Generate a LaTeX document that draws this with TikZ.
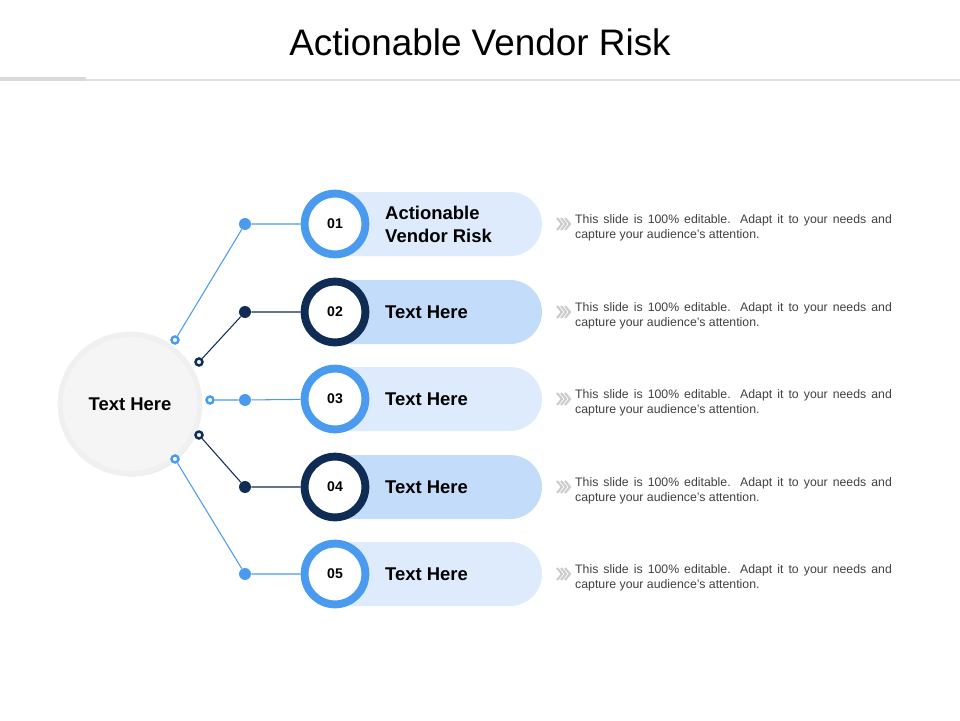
\documentclass[tikz,border=0pt]{standalone}
\usepackage{fontspec}
\setmainfont{Liberation Sans}
\usetikzlibrary{calc,shadows}
\definecolor{ringlight}{HTML}{4A9AF0}
\definecolor{ringdark}{HTML}{0E2C54}
\definecolor{pilllight}{HTML}{DDEBFC}
\definecolor{pilldark}{HTML}{C3DCFA}
\tikzset{
  numring/.style={circle,draw=#1,line width=4.5pt,fill=white,minimum size=61\unit,inner sep=0pt,font=\bfseries\fontsize{8}{9}\selectfont},
  joint/.style={circle,fill=#1,minimum size=12\unit,inner sep=0pt},
  ring/.style={circle,draw=#1,fill=white,line width=1.4pt,minimum size=7\unit,inner sep=0pt},
  label/.style={anchor=west,align=left,font=\bfseries\fontsize{10.5}{13}\selectfont},
  desc/.style={anchor=north west,text width=318\unit,align=justify,font=\fontsize{7}{9}\selectfont,text=black!75},
}
\newcommand{\unit}{*0.5669pt}
\begin{document}
\begin{tikzpicture}[x=0.02cm,y=-0.02cm]
  \useasboundingbox (0,0) rectangle (960,720);
  \node (title) at (480,42) {\fontsize{21}{24}\selectfont Actionable Vendor Risk};
  \draw[black!12,line width=0.6pt] (0,80) -- (960,80);
  \draw[black!15,line width=2.5pt] (0,79) -- (86,79);
  % hub
  \node[circle,fill=black!4,draw=black!6,line width=3pt,minimum size=140\unit,
        drop shadow={opacity=0.25,shadow xshift=1pt,shadow yshift=-1.5pt},
        font=\bfseries\fontsize{10.5}{13}\selectfont] (hub) at (130,404) {Text Here};
  \foreach \i/\y/\r/\rx/\ry/\col/\pill/\txt in {
      1/224/224/175/340/ringlight/pilllight/{Actionable\\Vendor Risk},
      2/312/312/199/362/ringdark/pilldark/Text Here,
      3/400/399/210/400/ringlight/pilllight/Text Here,
      4/487/487/199/435/ringdark/pilldark/Text Here,
      5/574/574/175/459/ringlight/pilllight/Text Here}{
    \fill[\pill] (330,\r-32) -- (510,\r-32) arc (-90:90:32) -- (330,\r+32) -- cycle;
    \node[numring=\col,drop shadow={opacity=0.2,shadow xshift=1pt,shadow yshift=-1pt}] (num\i) at (335,\r) {0\i};
    \node[joint=\col] (dot\i) at (245,\y) {};
    \node[ring=\col] (pin\i) at (\rx,\ry) {};
    \draw[\col,line width=0.6pt] (pin\i) -- (dot\i) -- (num\i);
    \node[label] (lab\i) at (379,\r) {\txt};
    \foreach \dx in {0,4,8}
      \draw[black!20,line width=1.2pt] (557+\dx,\r-6) -- (562+\dx,\r) -- (557+\dx,\r+6);
    \node[desc] (desc\i) at (569,\r-16) {This slide is 100\% editable. Adapt it to your needs and capture your audience's attention.};
  }
\end{tikzpicture}
\end{document}
